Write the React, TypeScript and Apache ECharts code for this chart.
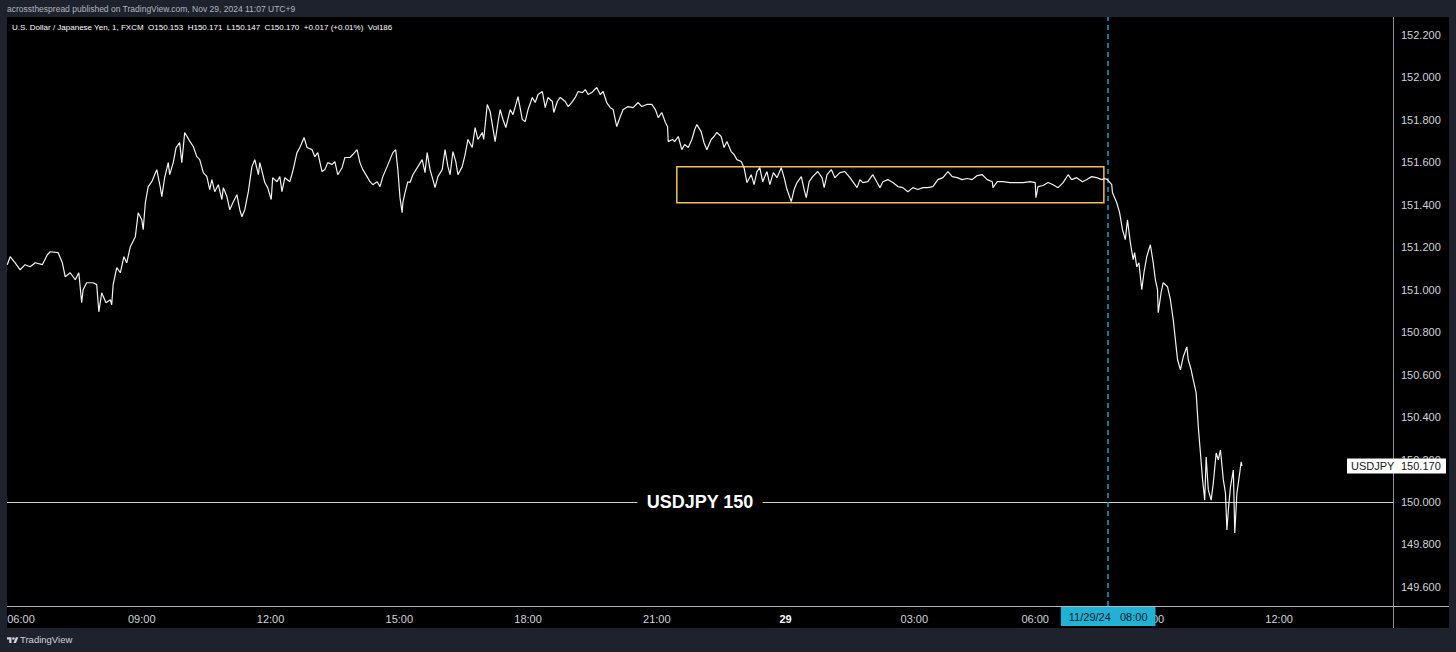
import React, { useEffect, useRef } from "react";
import * as echarts from "echarts";

// Bar time in minutes from 06:00 (Nov 28), as TradingView spaces bars
const barMinutes: number[] = [
  -8, -4, 3, 10, 17, 24, 31, 41, 48, 52,
  63, 69, 73, 80, 87, 92, 96, 98, 103, 112,
  117, 120, 124, 130, 136, 138, 140, 145, 150, 155,
  159, 164, 171, 175, 180, 182, 185, 189, 194, 201,
  206, 208, 212, 217, 219, 224, 228, 233, 236, 240,
  247, 252, 257, 261, 266, 271, 275, 278, 282, 287,
  292, 294, 299, 303, 308, 313, 317, 320, 324, 329,
  334, 338, 343, 345, 350, 352, 356, 361, 363, 369,
  373, 376, 380, 387, 391, 397, 401, 407, 411, 418,
  422, 426, 432, 436, 440, 446, 450, 454, 460, 464,
  471, 475, 481, 485, 489, 495, 499, 503, 509, 513,
  517, 523, 527, 531, 535, 538, 541, 544, 545, 548,
  552, 555, 559, 566, 572, 576, 579, 583, 587, 590,
  594, 600, 604, 608, 611, 615, 619, 622, 628, 632,
  636, 642, 646, 650, 656, 658, 663, 667, 674, 678,
  681, 685, 689, 695, 699, 706, 712, 716, 720, 726,
  730, 734, 740, 744, 748, 754, 756, 761, 765, 772,
  776, 781, 786, 790, 796, 800, 804, 809, 816, 821,
  825, 830, 835, 839, 844, 849, 853, 860, 867, 874,
  879, 886, 893, 898, 902, 907, 912, 915, 916, 922,
  925, 930, 935, 939, 944, 949, 953, 956, 962, 966,
  970, 976, 980, 984, 990, 994, 998, 1004, 1008, 1012,
  1018, 1022, 1026, 1032, 1036, 1040, 1044, 1048, 1054, 1058,
  1063, 1068, 1074, 1078, 1082, 1088, 1092, 1096, 1102, 1106,
  1109, 1113, 1118, 1125, 1131, 1134, 1138, 1144, 1149, 1156,
  1163, 1170, 1174, 1180, 1184, 1188, 1195, 1202, 1208, 1212,
  1216, 1223, 1230, 1237, 1244, 1251, 1258, 1265, 1272, 1279,
  1286, 1293, 1300, 1307, 1313, 1320, 1327, 1334, 1341, 1348,
  1355, 1362, 1369, 1370, 1376, 1384, 1394, 1404, 1412, 1422,
  1429, 1430, 1433, 1440, 1447, 1454, 1461, 1468, 1475, 1480,
  1487, 1495, 1501, 1508, 1515, 1522, 1526, 1530, 1536, 1537,
  1543, 1547, 1551, 1555, 1558, 1562, 1566, 1568, 1571, 1574,
  1578, 1581, 1585, 1590, 1594, 1597, 1600, 1601, 1605, 1608,
  1614, 1618, 1622, 1625, 1628, 1632, 1636, 1641, 1643, 1647,
  1650, 1654, 1657, 1660, 1663, 1666, 1668, 1671, 1675, 1678,
  1682, 1685, 1688, 1692, 1695, 1697, 1699, 1702, 1706, 1708,
  1711, 1713, 1717, 1718,
];

const closePrices: number[] = [
  151.118, 151.156, 151.127, 151.094, 151.118, 151.108, 151.127, 151.118, 151.165, 151.179,
  151.175, 151.127, 151.061, 151.080, 151.047, 151.080, 150.939, 151.000, 151.033, 151.033,
  151.024, 150.896, 150.986, 150.939, 150.953, 150.929, 151.024, 151.104, 151.080, 151.156,
  151.127, 151.203, 151.250, 151.363, 151.330, 151.283, 151.410, 151.486, 151.509, 151.566,
  151.481, 151.439, 151.528, 151.599, 151.542, 151.599, 151.670, 151.693, 151.599, 151.741,
  151.700, 151.675, 151.627, 151.613, 151.552, 151.533, 151.472, 151.519, 151.462, 151.495,
  151.425, 151.481, 151.439, 151.377, 151.415, 151.448, 151.377, 151.344, 151.377, 151.462,
  151.580, 151.613, 151.542, 151.599, 151.533, 151.505, 151.481, 151.425, 151.528, 151.509,
  151.533, 151.462, 151.528, 151.509, 151.557, 151.646, 151.670, 151.717, 151.670, 151.660,
  151.627, 151.646, 151.557, 151.566, 151.599, 151.590, 151.604, 151.542, 151.575, 151.623,
  151.623, 151.637, 151.660, 151.599, 151.566, 151.533, 151.509, 151.495, 151.509, 151.486,
  151.533, 151.580, 151.613, 151.646, 151.660, 151.566, 151.434, 151.363, 151.410, 151.458,
  151.509, 151.505, 151.542, 151.580, 151.613, 151.552, 151.646, 151.566, 151.519, 151.481,
  151.533, 151.566, 151.660, 151.580, 151.542, 151.651, 151.604, 151.542, 151.580, 151.637,
  151.708, 151.670, 151.764, 151.708, 151.741, 151.708, 151.873, 151.840, 151.698, 151.788,
  151.849, 151.802, 151.764, 151.849, 151.825, 151.910, 151.802, 151.792, 151.849, 151.906,
  151.882, 151.920, 151.934, 151.858, 151.906, 151.887, 151.835, 151.887, 151.906, 151.887,
  151.863, 151.882, 151.906, 151.934, 151.929, 151.943, 151.920, 151.929, 151.953, 151.920,
  151.934, 151.882, 151.858, 151.849, 151.769, 151.816, 151.849, 151.863, 151.858, 151.882,
  151.863, 151.873, 151.873, 151.849, 151.811, 151.835, 151.788, 151.769, 151.698, 151.708,
  151.698, 151.722, 151.660, 151.684, 151.670, 151.708, 151.755, 151.778, 151.745, 151.693,
  151.660, 151.708, 151.722, 151.741, 151.722, 151.670, 151.698, 151.651, 151.637, 151.613,
  151.604, 151.575, 151.505, 151.542, 151.495, 151.557, 151.575, 151.509, 151.557, 151.495,
  151.552, 151.528, 151.575, 151.528, 151.472, 151.415, 151.472, 151.505, 151.533, 151.472,
  151.434, 151.509, 151.533, 151.557, 151.528, 151.481, 151.542, 151.566, 151.528, 151.552,
  151.557, 151.528, 151.509, 151.481, 151.519, 151.505, 151.509, 151.542, 151.505, 151.481,
  151.509, 151.519, 151.505, 151.486, 151.481, 151.462, 151.481, 151.472, 151.481, 151.481,
  151.486, 151.519, 151.528, 151.557, 151.533, 151.528, 151.519, 151.524, 151.519, 151.538,
  151.542, 151.519, 151.509, 151.481, 151.509, 151.509, 151.505, 151.505, 151.505, 151.509,
  151.505, 151.434, 151.486, 151.491, 151.505, 151.495, 151.481, 151.505, 151.542, 151.519,
  151.528, 151.509, 151.519, 151.533, 151.528, 151.519, 151.524, 151.519, 151.495, 151.458,
  151.410, 151.363, 151.283, 151.236, 151.330, 151.222, 151.142, 151.175, 151.108, 151.127,
  151.000, 151.080, 151.156, 151.212, 151.127, 151.047, 151.000, 150.892, 150.986, 151.033,
  151.014, 150.953, 150.858, 150.764, 150.670, 150.623, 150.684, 150.731, 150.670, 150.623,
  150.575, 150.514, 150.354, 150.231, 150.104, 150.009, 150.212, 150.057, 150.009, 150.090,
  150.231, 150.198, 150.245, 150.104, 150.042, 149.868, 149.962, 150.071, 150.151, 149.854,
  150.042, 150.090, 150.189, 150.170,
];

// Axis ticks
const timeTickMinutes: number[] = [0, 180, 360, 540, 720, 900, 1080, 1260, 1429, 1590, 1770];
const timeTickLabels: string[] = ["06:00", "09:00", "12:00", "15:00", "18:00", "21:00", "29", "03:00", "06:00", "09:00", "12:00"];
const priceTicks: number[] = [149.6, 149.8, 150.0, 150.2, 150.4, 150.6, 150.8, 151.0, 151.2, 151.4, 151.6, 151.8, 152.0, 152.2];

// Annotations
const levelPrice = 150.0;
const levelLabel = "USDJPY 150";
const crossMinute = 1531;
const crossLabel = "11/29/24   08:00";
const boxStartMinute = 928;
const boxEndMinute = 1525;
const boxTopPrice = 151.58;
const boxBottomPrice = 151.41;
const symbolName = "USDJPY";
const lastPrice = 150.17;

const headerText = "acrossthespread published on TradingView.com, Nov 29, 2024 11:07 UTC+9";
const legendText = "U.S. Dollar / Japanese Yen, 1, FXCM  O150.153  H150.171  L150.147  C150.170  +0.017 (+0.01%)  Vol186";

const FONT = "'Liberation Sans', Arial, sans-serif";

let logoRegistered = false;
function registerLogo() {
  if (logoRegistered) return;
  logoRegistered = true;
  const d = "M14 22H7V11H0V4h14v18zM28 22h-8l7.5-18h8L28 22zM24 8a4 4 0 1 1-8 0 4 4 0 0 1 8 0z";
  echarts.graphic.registerShape("tvlogo", echarts.graphic.extendPath(d as any, {}) as any);
}

export default function App() {
  const ref = useRef<HTMLDivElement>(null);

  useEffect(() => {
    if (!ref.current) return;
    registerLogo();
    const chart = echarts.init(ref.current, null, { renderer: "svg" });
    const n = Math.min(barMinutes.length, closePrices.length);
    const data: [number, number][] = [];
    for (let i = 0; i < n; i++) data.push([barMinutes[i], closePrices[i]]);

    const option: any = {
      animation: false,
      backgroundColor: "transparent",
      textStyle: { fontFamily: FONT },
      grid: { left: 7, top: 17, width: 1386, height: 589, containLabel: false },
      xAxis: {
        type: "value",
        min: -8.4,
        max: 1929.2,
        axisLine: { show: false },
        axisTick: { show: false },
        splitLine: { show: false },
        axisLabel: {
          customValues: timeTickMinutes,
          color: "#d1d4dc",
          fontSize: 11,
          fontFamily: FONT,
          margin: 7,
          formatter: (v: number) => {
            const idx = timeTickMinutes.indexOf(v);
            const t = idx >= 0 ? timeTickLabels[idx] : "";
            if (t === "29") return "{b|29}";
            if (idx === 0) return "{f|" + t + "}";
            return t;
          },
          rich: {
            b: { fontWeight: "bold", fontSize: 11, color: "#ffffff", fontFamily: FONT },
            f: { fontSize: 11, color: "#d1d4dc", padding: [0, 0, 0, 16], fontFamily: FONT },
          },
        },
      },
      yAxis: {
        type: "value",
        position: "right",
        min: 149.51,
        max: 152.285,
        scale: true,
        axisLine: { show: false },
        axisTick: { show: false },
        splitLine: { show: false },
        axisLabel: {
          customValues: priceTicks,
          color: "#d1d4dc",
          fontSize: 11,
          fontFamily: FONT,
          margin: 8,
          formatter: (v: number) => v.toFixed(3),
        },
      },
      series: [
        {
          type: "line",
          data,
          showSymbol: false,
          symbol: "none",
          lineStyle: { color: "#f2f2f2", width: 1.2 },
          clip: true,
          z: 5,
          markArea: {
            silent: true,
            itemStyle: { color: "rgba(0,0,0,0)", borderColor: "#f2c14e", borderWidth: 1.5 },
            data: [[{ coord: [boxStartMinute, boxTopPrice] }, { coord: [boxEndMinute, boxBottomPrice] }]],
          },
          markLine: {
            silent: true,
            symbol: ["none", "none"],
            data: [
              {
                yAxis: levelPrice,
                lineStyle: { type: "solid", color: "#d0d0d0", width: 1 },
                label: {
                  show: true,
                  position: "middle",
                  distance: -12,
                  formatter: levelLabel,
                  color: "#ffffff",
                  fontSize: 18,
                  fontWeight: "bold",
                  fontFamily: FONT,
                  backgroundColor: "#000000",
                  padding: [3, 9],
                },
              },
              {
                xAxis: crossMinute,
                lineStyle: { type: [5, 4], color: "#2a9fc9", width: 1.5 },
                label: {
                  show: true,
                  position: "start",
                  distance: 0,
                  formatter: crossLabel,
                  color: "#131722",
                  fontSize: 11,
                  fontFamily: FONT,
                  backgroundColor: "#1fb2d6",
                  padding: [5, 8, 4, 8],
                },
              },
            ],
          },
        },
      ],
    };
    chart.setOption(option);

    const tagY = chart.convertToPixel({ yAxisIndex: 0 } as any, lastPrice) as number;

    chart.setOption({
      graphic: [
        { type: "text", left: 7, top: 4, z: 50, style: { text: headerText, fill: "#b2b5be", fontSize: 8.5, fontFamily: FONT } },
        { type: "text", left: 12, top: 23, z: 50, style: { text: legendText, fill: "#ffffff", fontSize: 8, fontFamily: FONT } },
        { type: "line", z: 40, shape: { x1: 1393.5, y1: 17, x2: 1393.5, y2: 628 }, style: { stroke: "#8c8f99", lineWidth: 1 } },
        { type: "line", z: 40, shape: { x1: 7, y1: 606.5, x2: 1449, y2: 606.5 }, style: { stroke: "#b2b5be", lineWidth: 1 } },
        {
          type: "group",
          z: 100,
          children: [
            { type: "rect", z: 100, shape: { x: 1347, y: tagY - 7.5, width: 99, height: 15 }, style: { fill: "#ffffff" } },
            { type: "text", z: 101, style: { x: 1351, y: tagY, text: symbolName, fill: "#131722", fontSize: 11, fontFamily: FONT, verticalAlign: "middle" } },
            { type: "text", z: 101, style: { x: 1401, y: tagY, text: lastPrice.toFixed(3), fill: "#131722", fontSize: 11, fontFamily: FONT, verticalAlign: "middle" } },
          ],
        },
        { type: "tvlogo", x: 7, y: 636, scaleX: 0.32, scaleY: 0.32, z: 50, style: { fill: "#d1d4dc" } },
        { type: "text", left: 20, top: 634, z: 50, style: { text: "TradingView", fill: "#d1d4dc", fontSize: 9.5, fontFamily: FONT } },
      ],
    });

    return () => chart.dispose();
  }, []);

  return (
    <div style={{ position: "fixed", left: 0, top: 0, width: 1456, height: 652, background: "#1e222d", overflow: "hidden" }}>
      <div style={{ position: "absolute", left: 7, top: 17, width: 1442, height: 611, background: "#000000" }} />
      <div ref={ref} style={{ position: "absolute", left: 0, top: 0, width: 1456, height: 652 }} />
    </div>
  );
}
